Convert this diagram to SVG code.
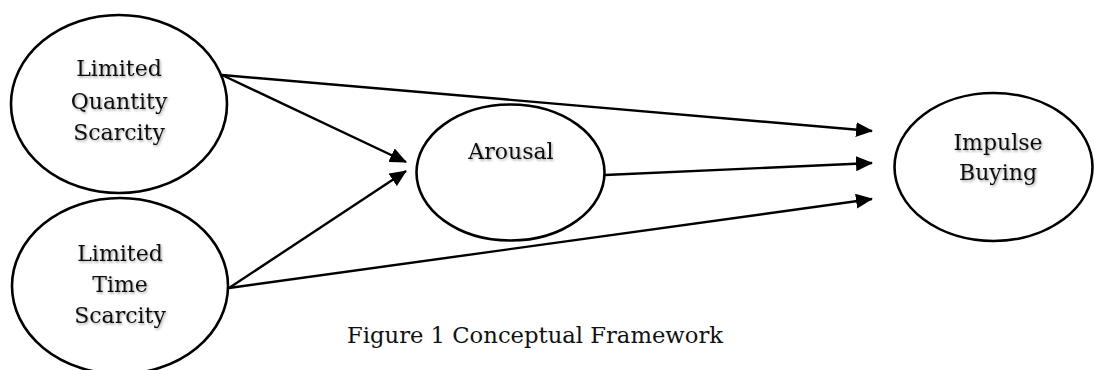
<svg xmlns="http://www.w3.org/2000/svg" width="1094" height="370" viewBox="0 0 1094 370">
  <defs>
    <marker id="arrow" viewBox="0 0 17 15" markerWidth="17" markerHeight="15" refX="16" refY="7.5" orient="auto" markerUnits="userSpaceOnUse">
      <path d="M0,0 L17,7.5 L0,15 z" fill="#000"/>
    </marker>
    <filter id="soft-shadow" x="-10%" y="-20%" width="130%" height="150%">
      <feDropShadow dx="1.2" dy="1.5" stdDeviation="0.9" flood-color="#000" flood-opacity="0.35"/>
    </filter>
    <style>
      .node { fill: #fff; stroke: #000; stroke-width: 2.6; }
      .label { font-family: "DejaVu Serif", "Liberation Serif", serif; font-size: 22px; fill: #111; text-anchor: middle; filter: url(#soft-shadow); }
      .caption { font-family: "DejaVu Serif", "Liberation Serif", serif; font-size: 22px; fill: #111; }
      .edge { stroke: #000; stroke-width: 2.4; fill: none; marker-end: url(#arrow); }
    </style>
  </defs>
  <rect width="1094" height="370" fill="#fff"/>

  <g id="connectors">
    <line class="edge" x1="222" y1="75" x2="872" y2="131"/>
    <line class="edge" x1="222" y1="75" x2="406" y2="162"/>
    <line class="edge" x1="229" y1="288" x2="406" y2="171"/>
    <line class="edge" x1="229" y1="288" x2="872" y2="199"/>
    <line class="edge" x1="605" y1="175" x2="872" y2="163"/>
  </g>

  <g id="limited-quantity-scarcity">
    <ellipse class="node" cx="119" cy="104" rx="108" ry="89"/>
    <text class="label" x="119" y="76">Limited</text>
    <text class="label" x="119" y="109">Quantity</text>
    <text class="label" x="119" y="140">Scarcity</text>
  </g>

  <g id="limited-time-scarcity">
    <ellipse class="node" cx="120" cy="286" rx="108" ry="88"/>
    <text class="label" x="120" y="261">Limited</text>
    <text class="label" x="120" y="292">Time</text>
    <text class="label" x="120" y="323">Scarcity</text>
  </g>

  <g id="arousal">
    <ellipse class="node" cx="510.5" cy="172.5" rx="94" ry="68"/>
    <text class="label" x="511" y="159">Arousal</text>
  </g>

  <g id="impulse-buying">
    <ellipse class="node" cx="993.5" cy="167" rx="99" ry="74"/>
    <text class="label" x="998" y="150">Impulse</text>
    <text class="label" x="998" y="180">Buying</text>
  </g>

  <text class="caption" x="347" y="343" textLength="376" lengthAdjust="spacingAndGlyphs">Figure 1 Conceptual Framework</text>
</svg>
